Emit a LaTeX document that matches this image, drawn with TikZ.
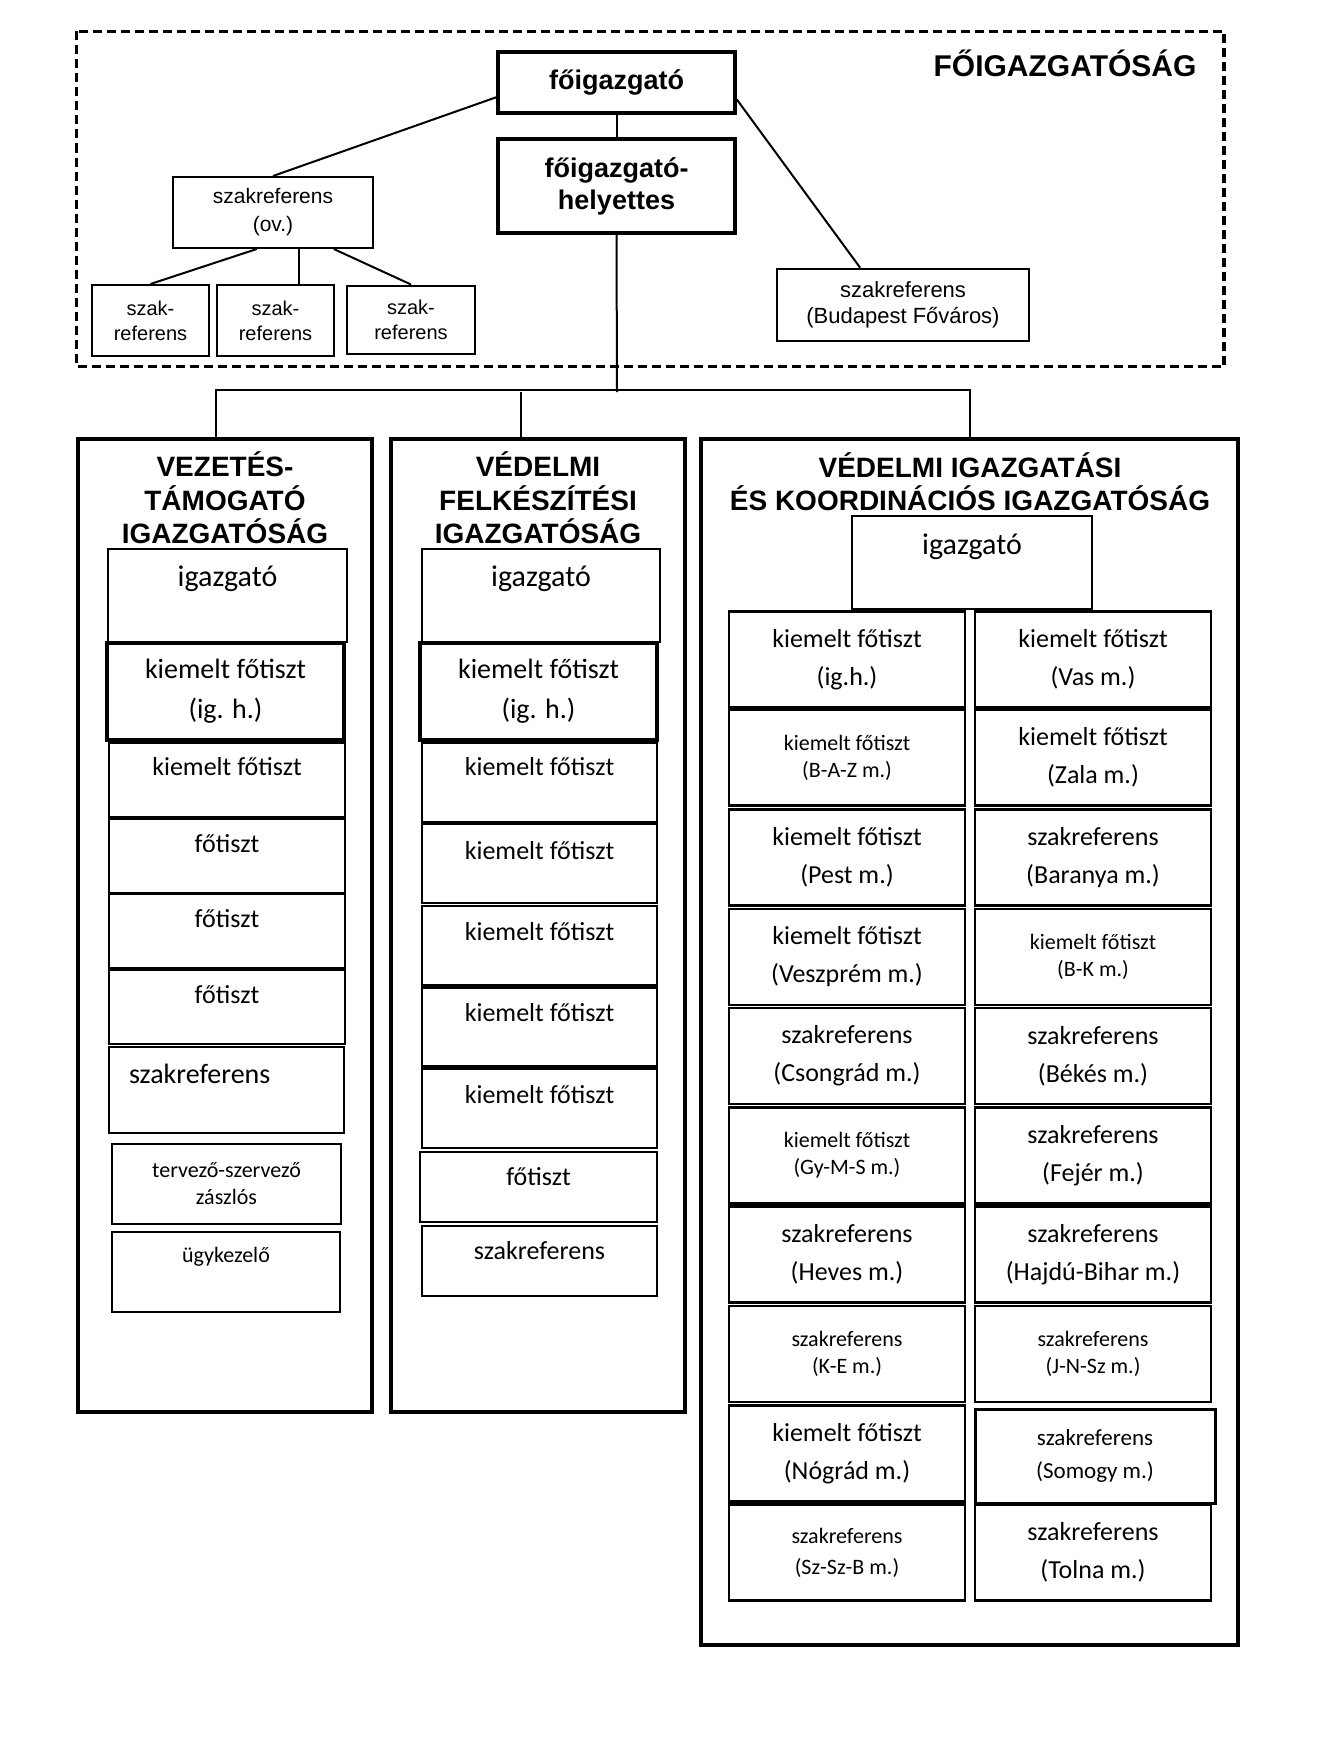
\documentclass[tikz,border=0pt]{standalone}
\usepackage{fontspec}
\setmainfont{Carlito}
\newfontfamily\arialfont{Liberation Sans}

\begin{document}
\begin{tikzpicture}[
	x=1pt, y=-1pt,
	line join=miter
]
\tikzset{
    mybox/.style = {rectangle, draw=black, align=center, inner sep=0pt},
    topbox/.style = {mybox, line width=2pt, font=\arialfont\fontsize{21}{28}\selectfont},
    chiefbox/.style = {mybox, line width=3.5pt, font=\arialfont\bfseries\fontsize{27}{32}\selectfont},
    unitbox/.style = {mybox, line width=4pt},
    unittitle/.style = {align=center, inner sep=0pt, font=\arialfont\bfseries\fontsize{28}{33.5}\selectfont},
    cell/.style = {mybox, line width=2.5pt, font=\fontsize{26}{38}\selectfont},
    smalltext/.style = {font=\fontsize{22}{27}\selectfont},
    lift/.style = {text depth=#1pt},
    conn/.style = {line width=2pt}
}
\useasboundingbox (0,0) rectangle (1317,1750);

% fõigazgatóság
\draw[line width=3.5pt, dash pattern=on 9pt off 5pt] (76.5,31.5) rectangle (1224,366.5);
\node[font=\arialfont\bfseries\fontsize{30}{30}\selectfont] (hq) at (1065,63) {FŐIGAZGATÓSÁG};
\node[chiefbox, minimum width=237, minimum height=61] (fig) at (616.5,82.5) {főigazgató};
\node[chiefbox, minimum width=237, minimum height=94] (figh) at (616.5,186) {főigazgató-\\helyettes};
\node[topbox, minimum width=200, minimum height=71] (ov) at (273,212.5) {szakreferens\\(ov.)};
\node[topbox, font=\arialfont\fontsize{20}{25}\selectfont, minimum width=117, minimum height=71] (sz1) at (150.5,320.5) {szak-\\referens};
\node[topbox, font=\arialfont\fontsize{20}{25}\selectfont, minimum width=117, minimum height=71] (sz2) at (275.5,320.5) {szak-\\referens};
\node[topbox, font=\arialfont\fontsize{20}{25}\selectfont, minimum width=128, minimum height=68] (sz3) at (411,319.5) {szak-\\referens};
\node[topbox, font=\arialfont\fontsize{22}{26}\selectfont, line width=2.5pt, minimum width=252, minimum height=72] (bp) at (903,305) {szakreferens\\(Budapest Főváros)};

\draw[conn] (fig) -- (figh);
\draw[conn] (fig.187) -- (ov.north);
\draw[conn] (fig.-8) -- (bp.139);
\draw[conn] (ov.246) -- (sz1.north);
\coordinate (ovmid) at (299,250);
\draw[conn] (ov.south -| ovmid) -- (sz2.north -| ovmid);
\draw[conn] (ov.-31) -- (sz3.north);

% igazgatóságok
\node[unitbox, minimum width=294, minimum height=973] (col1) at (225,925.5) {};
\node[unitbox, minimum width=294, minimum height=973] (col2) at (538,925.5) {};
\node[unitbox, minimum width=537, minimum height=1206] (col3) at (969.5,1042) {};
\node[unittitle] (t1) at (225,498) {VEZETÉS-\\TÁMOGATÓ\\IGAZGATÓSÁG};
\node[unittitle] (t2) at (538,498) {VÉDELMI\\FELKÉSZÍTÉSI\\IGAZGATÓSÁG};
\node[unittitle] (t3) at (970,481.5) {VÉDELMI IGAZGATÁSI\\ÉS KOORDINÁCIÓS IGAZGATÓSÁG};

\coordinate (bus) at (617,392);
\draw[conn] (figh.south) -- (bus);
\draw[conn] (col1.91) -- ++(0,-47) -| (col3.north);
\draw[conn] (col2.92) -- (col2.92 |- bus);

% vezetés-támogató
\node[cell, font=\fontsize{30}{36}\selectfont, lift=39, minimum width=239, minimum height=93] (a1) at (227.5,595.5) {igazgató};
\node[cell, line width=3.5pt, font=\fontsize{28}{40}\selectfont, minimum width=237, minimum height=97] (a2) at (225.5,691.5) {kiemelt főtiszt\\(ig. h.)};
\node[cell, lift=27, minimum width=236, minimum height=74] (a3) at (227,780) {kiemelt főtiszt};
\node[cell, lift=25, minimum width=236, minimum height=74] (a4) at (227,856) {főtiszt};
\node[cell, lift=25, minimum width=236, minimum height=74] (a5) at (227,931) {főtiszt};
\node[cell, lift=25, minimum width=236, minimum height=74] (a6) at (227,1007) {főtiszt};
\node[cell, font=\fontsize{28}{34}\selectfont, lift=32, text width=195, inner xsep=20, align=left, minimum height=86] (a7) at (226.5,1090) {szakreferens};
\node[cell, smalltext, line width=2pt, minimum width=229, minimum height=80] (a8) at (226.5,1184) {tervező-szervező\\zászlós};
\node[cell, smalltext, line width=2pt, lift=34, minimum width=228, minimum height=80] (a9) at (226,1272) {ügykezelő};

% védelmi felkészítési
\node[cell, font=\fontsize{30}{36}\selectfont, lift=39, minimum width=238, minimum height=93] (b1) at (541,595.5) {igazgató};
\node[cell, line width=3.5pt, font=\fontsize{28}{40}\selectfont, minimum width=237, minimum height=97] (b2) at (538.5,691.5) {kiemelt főtiszt\\(ig. h.)};
\node[cell, lift=32, minimum width=235, minimum height=79] (b3) at (539.5,782.5) {kiemelt főtiszt};
\node[cell, lift=27, minimum width=235, minimum height=79] (b4) at (539.5,863.5) {kiemelt főtiszt};
\node[cell, lift=28, minimum width=235, minimum height=79] (b5) at (539.5,945.5) {kiemelt főtiszt};
\node[cell, lift=29, minimum width=235, minimum height=79] (b6) at (539.5,1027) {kiemelt főtiszt};
\node[cell, lift=28, minimum width=235, minimum height=79] (b7) at (539.5,1108.5) {kiemelt főtiszt};
\node[cell, lift=21, minimum width=237, minimum height=70] (b8) at (538.5,1187) {főtiszt};
\node[cell, lift=21, minimum width=235, minimum height=70] (b9) at (539.5,1261) {szakreferens};

% védelmi igazgatási és koordinációs
\node[cell, font=\fontsize{30}{36}\selectfont, lift=37, minimum width=240, minimum height=93] (c0) at (972,562.5) {igazgató};
\node[cell, minimum width=236, minimum height=96] (c1) at (847,659.5) {kiemelt főtiszt\\(ig.h.)};
\node[cell, smalltext, minimum width=236, minimum height=96] (c2) at (847,757.5) {kiemelt főtiszt\\(B-A-Z m.)};
\node[cell, minimum width=236, minimum height=96] (c3) at (847,857.5) {kiemelt főtiszt\\(Pest m.)};
\node[cell, minimum width=236, minimum height=96] (c4) at (847,957) {kiemelt főtiszt\\(Veszprém m.)};
\node[cell, minimum width=236, minimum height=96] (c5) at (847,1056) {szakreferens\\(Csongrád m.)};
\node[cell, smalltext, minimum width=236, minimum height=96] (c6) at (847,1155.5) {kiemelt főtiszt\\(Gy-M-S m.)};
\node[cell, minimum width=236, minimum height=96] (c7) at (847,1254.5) {szakreferens\\(Heves m.)};
\node[cell, smalltext, minimum width=236, minimum height=96] (c8) at (847,1354) {szakreferens\\(K-E m.)};
\node[cell, minimum width=236, minimum height=96] (c9) at (847,1453.5) {kiemelt főtiszt\\(Nógrád m.)};
\node[cell, font=\fontsize{22}{31}\selectfont, minimum width=236, minimum height=96] (c10) at (847,1552.5) {szakreferens\\(Sz-Sz-B m.)};

\node[cell, minimum width=236, minimum height=96] (d1) at (1093,659.5) {kiemelt főtiszt\\(Vas m.)};
\node[cell, minimum width=236, minimum height=96] (d2) at (1093,757.5) {kiemelt főtiszt\\(Zala m.)};
\node[cell, minimum width=236, minimum height=96] (d3) at (1093,857.5) {szakreferens\\(Baranya m.)};
\node[cell, smalltext, minimum width=236, minimum height=96] (d4) at (1093,957) {kiemelt főtiszt\\(B-K m.)};
\node[cell, minimum width=236, minimum height=96] (d5) at (1093,1056) {szakreferens\\(Békés m.)};
\node[cell, minimum width=236, minimum height=96] (d6) at (1093,1155.5) {szakreferens\\(Fejér m.)};
\node[cell, minimum width=236, minimum height=96] (d7) at (1093,1254.5) {szakreferens\\(Hajdú-Bihar m.)};
\node[cell, smalltext, minimum width=236, minimum height=96] (d8) at (1093,1354) {szakreferens\\(J-N-Sz m.)};
\node[cell, font=\fontsize{23}{33}\selectfont, line width=3pt, minimum width=240, minimum height=94] (d9) at (1095,1456) {szakreferens\\(Somogy m.)};
\node[cell, minimum width=236, minimum height=96] (d10) at (1093,1552.5) {szakreferens\\(Tolna m.)};
\end{tikzpicture}
\end{document}
